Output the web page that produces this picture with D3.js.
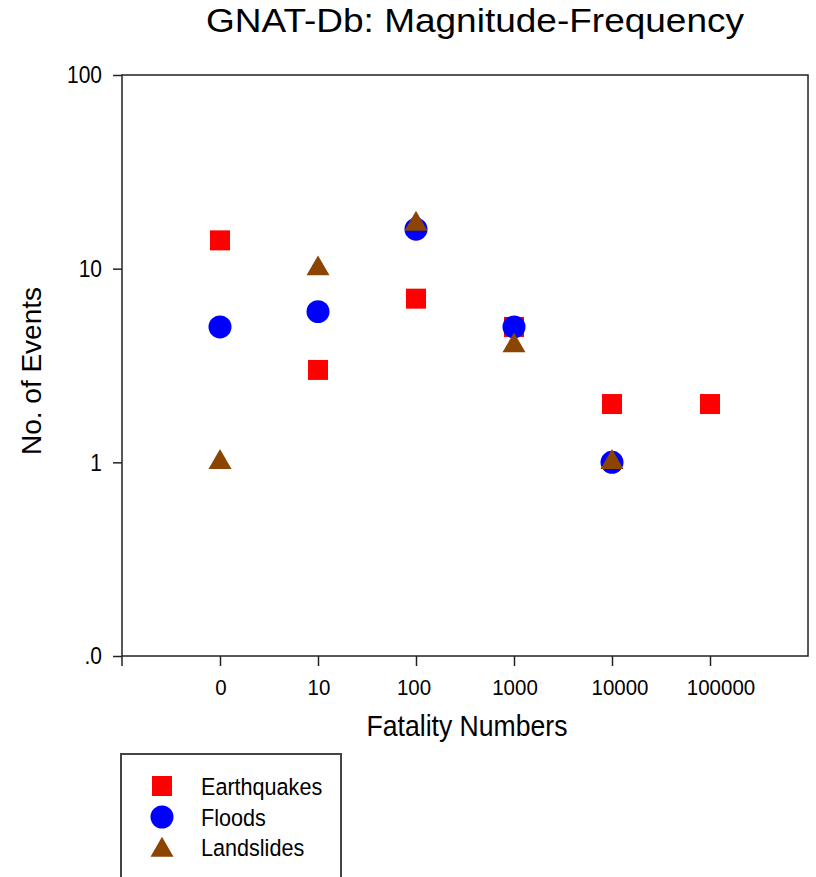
<!DOCTYPE html>
<html>
<head>
<meta charset="utf-8">
<script src="https://cdn.jsdelivr.net/npm/d3@7"></script>
<style>
  html, body { margin: 0; padding: 0; background: #fff; }
  svg { display: block; }
  text { font-family: "Liberation Sans", Arial, sans-serif; fill: #000; }
</style>
</head>
<body>
<div id="chart"></div>
<script>
// ---- data ----
const categories = ["0", "10", "100", "1000", "10000", "100000"];
const earthquakes = [14, 3, 7, 5, 2, 2];
const floods = [5, 6, 16, 5, 1, null];
const landslides = [1, 10, 17, 4, 1, null];
const yTickValues = [0.1, 1, 10, 100];
const yTickLabels = [".0", "1", "10", "100"];
const seriesNames = ["Earthquakes", "Floods", "Landslides"];
const seriesColors = ["#ff0000", "#0000ff", "#8b4500"];
// small horizontal label nudges seen in the original x tick labels
const xLabelNudge = [1, 1, -2, 1, 8, 11];

const W = 816, H = 877;
const margin = { left: 122, right: 8, top: 75, bottom: 221 };
const svg = d3.select("#chart").append("svg").attr("width", W).attr("height", H);

const x = d3.scalePoint().domain(categories).range([margin.left, W - margin.right]).padding(1);
const y = d3.scaleLog().domain([0.1, 100]).range([H - margin.bottom, margin.top]);

const x0 = margin.left, x1 = W - margin.right, y0 = H - margin.bottom, y1 = margin.top;

// text helper: vertically stretched text, vertically centred on (cx, cy)
function sText(parent, cx, cy, str, size, anchor, sy, rotate) {
  const g = parent.append("g")
    .attr("transform", `translate(${cx},${cy})` + (rotate ? ` rotate(${rotate})` : "") + ` scale(1,${sy})`);
  g.append("text").attr("x", 0).attr("y", 0).attr("dy", "0.36em")
    .attr("text-anchor", anchor).style("font-size", size + "px").text(str);
  return g;
}

// frame
svg.append("rect").attr("x", x0).attr("y", y1).attr("width", x1 - x0).attr("height", y0 - y1)
  .attr("fill", "none").attr("stroke", "#222").attr("stroke-width", 1.5);

// y axis (ticks only; labels drawn below)
const yAxis = d3.axisLeft(y).tickValues(yTickValues).tickFormat("").tickSize(9);
const gy = svg.append("g").attr("transform", `translate(${x0},0)`).call(yAxis);
gy.select(".domain").remove();
gy.selectAll(".tick line").attr("stroke", "#222").attr("stroke-width", 1.5);
yTickValues.forEach((v, i) => sText(svg, x0 - 20, y(v), yTickLabels[i], 21, "end", 1.1));

// x axis
const xAxis = d3.axisBottom(x).tickFormat("").tickSize(10);
const gx = svg.append("g").attr("transform", `translate(0,${y0})`).call(xAxis);
gx.select(".domain").remove();
gx.selectAll(".tick line").attr("stroke", "#222").attr("stroke-width", 1.5);
gx.append("line").attr("x1", x0).attr("x2", x0).attr("y1", 0).attr("y2", 10)
  .attr("stroke", "#222").attr("stroke-width", 1.5);
categories.forEach((c, i) => sText(svg, x(c) + xLabelNudge[i], y0 + 31, c, 20.5, "middle", 1.12));

// titles
svg.append("text").attr("x", 475).attr("y", 32).attr("text-anchor", "middle")
  .style("font-size", "33px").attr("textLength", 538).attr("lengthAdjust", "spacingAndGlyphs")
  .text("GNAT-Db: Magnitude-Frequency");
sText(svg, 467, 726, "Fatality Numbers", 26.6, "middle", 1.08);
sText(svg, 31, 371, "No. of Events", 28, "middle", 1.0, -90);

// markers
const shapes = [d3.symbolSquare, d3.symbolCircle, d3.symbolTriangle];
const sizes = [400, 415, 229];
const allSeries = [earthquakes, floods, landslides];

allSeries.forEach((vals, si) => {
  const sym = d3.symbol().type(shapes[si]).size(sizes[si]);
  svg.append("g").selectAll("path")
    .data(vals.map((v, i) => ({ c: categories[i], v })).filter(d => d.v != null))
    .join("path")
    .attr("transform", d => `translate(${x(d.c)},${y(d.v)})`)
    .attr("d", sym)
    .attr("fill", seriesColors[si]);
});

// legend
const lg = svg.append("g");
lg.append("rect").attr("x", 121).attr("y", 754).attr("width", 220).attr("height", 130)
  .attr("fill", "#fff").attr("stroke", "#444").attr("stroke-width", 2);
const legendY = [786, 817, 847];
seriesNames.forEach((name, si) => {
  lg.append("path").attr("transform", `translate(162,${legendY[si] + (si === 2 ? 3 : 0)})`)
    .attr("d", d3.symbol().type(shapes[si]).size(sizes[si])).attr("fill", seriesColors[si]);
  sText(lg, 201, legendY[si], name, 21.6, "start", 1.1);
});
</script>
</body>
</html>
